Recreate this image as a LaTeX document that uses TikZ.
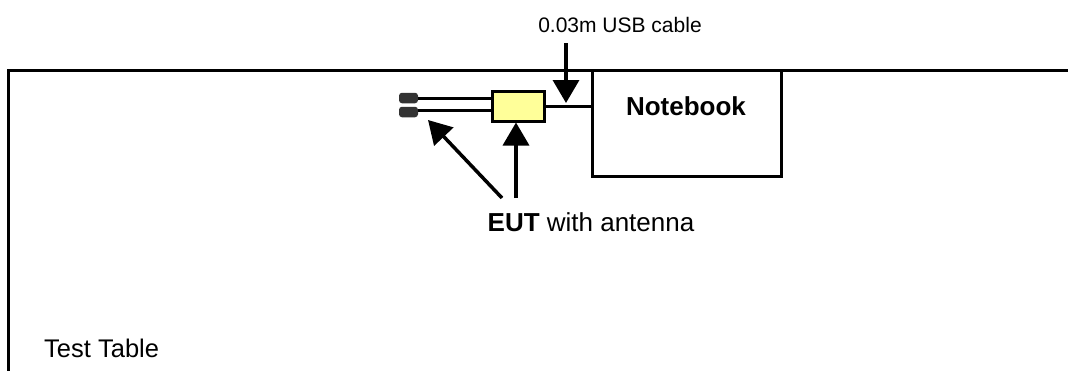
\documentclass[tikz,border=0pt]{standalone}
\usepackage{fontspec}
\setmainfont{Liberation Sans}
\usetikzlibrary{arrows.meta}
\definecolor{eutyellow}{HTML}{FFFF99}
\definecolor{capgray}{HTML}{333333}
\begin{document}
\begin{tikzpicture}[x=1pt,y=-1pt,
  thickline/.style={line width=3pt},
  bigarrow/.style={line width=3.5pt,-{Triangle[width=26pt,length=23pt]}},
  boxstyle/.style={draw,line width=3pt,inner sep=0pt},
  capstyle/.style={fill=capgray,rounded corners=3pt,inner sep=0pt,minimum width=19pt,minimum height=10.5pt},
  lbl/.style={inner sep=0pt}]
\useasboundingbox (0,0) rectangle (1068,370);
% table
\draw[thickline] (8,372) -- (8,70) -- (1070,70);
% notebook
\node[boxstyle,minimum width=189pt,minimum height=106pt] (nb) at (686.5,123) {};
\node[lbl,font=\fontsize{26}{30}\selectfont\bfseries] (nbt) at (686,106) {Notebook};
% EUT
\node[boxstyle,fill=eutyellow,minimum width=52pt,minimum height=30pt] (eut) at (518,106) {};
% antenna caps
\node[capstyle] (cap1) at (408.5,98) {};
\node[capstyle] (cap2) at (408.5,112) {};
\draw[thickline] (cap1.east) coordinate (w1) -- (w1 -| eut.west);
\draw[thickline] (cap2.east |- 0,110) coordinate (w2) -- (w2 -| eut.west);
% USB cable
\draw[thickline] (eut.east) -- (eut.east -| nb.west);
\coordinate (usbtop) at (566,43);
\draw[bigarrow] (usbtop) -- (566,103);
\node[lbl,font=\fontsize{21}{24}\selectfont] (usb) at (620,25) {0.03m USB cable};
% EUT label and arrows
\node[lbl,font=\fontsize{26}{30}\selectfont] (eutl) at (591,222) {\textbf{EUT} with antenna};
\coordinate (a1s) at (502,198);
\coordinate (a1e) at (428,120);
\coordinate (a2s) at (516,198);
\draw[bigarrow] (a1s) -- (a1e);
\draw[bigarrow] (a2s) -- (a2s |- eut.south);
% test table label
\node[lbl,anchor=west,font=\fontsize{25.5}{30}\selectfont] (tt) at (44,348) {Test Table};
\end{tikzpicture}
\end{document}
